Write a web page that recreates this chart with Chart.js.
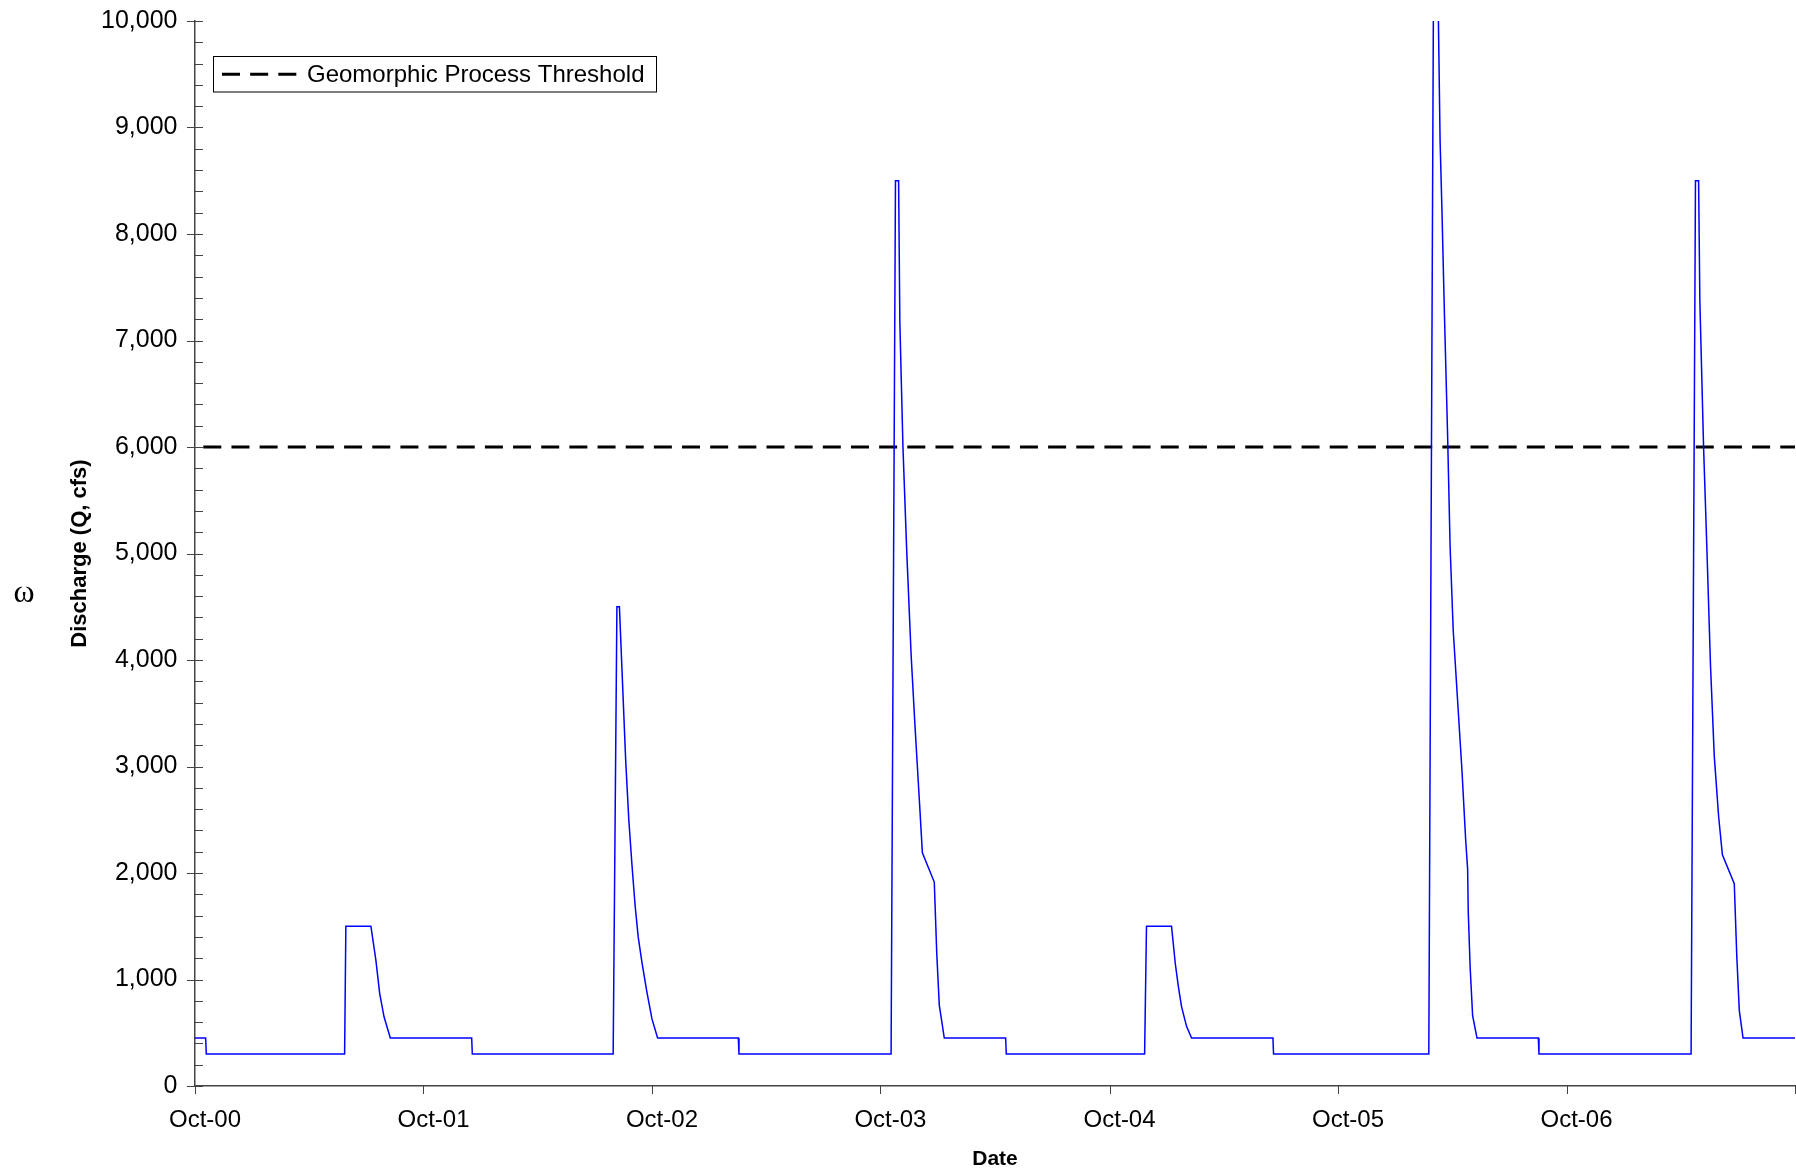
<!DOCTYPE html>
<html>
<head>
<meta charset="utf-8">
<script src="https://cdn.jsdelivr.net/npm/chart.js@4.4.1/dist/chart.umd.min.js"></script>
<style>
  html, body { margin: 0; padding: 0; background: #fff; }
  #wrap { width: 1796px; height: 1172px; position: relative; }
</style>
</head>
<body>
<div id="wrap"><canvas id="c" width="1796" height="1172"></canvas></div>
<script>
// ---- data (day offsets counted from 1 Oct 2000) ----
const days = [0,17,18,239,241,281,289,295,302,312,442,443,668,674,678,683,688,693,698,703,708,714,722,730,739,868,869,1112,1119,1124,1126,1131,1137,1144,1150,1157,1162,1181,1185,1189,1197,1295,1296,1517,1520,1560,1566,1571,1576,1584,1592,1722,1723,1971,1979,1984,1989,1992,1996,2001,2005,2010,2017,2024,2030,2033,2034,2037,2041,2048,2146,2147,2390,2397,2402,2404,2410,2415,2421,2427,2434,2440,2459,2463,2467,2473,2556];
const discharge = [450,450,300,300,1500,1500,1180,870,650,450,450,300,300,4500,4500,3780,3060,2500,2080,1700,1400,1160,880,630,450,450,300,300,8500,8500,7170,5990,5020,4050,3400,2700,2190,1915,1240,760,450,450,300,300,1500,1500,1150,930,745,560,450,450,300,300,11000,11000,8880,8220,7240,6120,5070,4280,3620,2960,2300,2040,1640,1120,660,450,450,300,300,8500,8500,7370,5990,5090,3950,3100,2530,2170,1900,1220,710,450,450];
const thresholdValue = 6000;
const thresholdLabel = 'Geomorphic Process Threshold';
const yearTickDays = [0,365,730,1095,1461,1826,2191,2556];
const yearTickLabels = ['Oct-00','Oct-01','Oct-02','Oct-03','Oct-04','Oct-05','Oct-06',''];
const yMin = 0, yMax = 10000, yMajorStep = 1000, yMinorStep = 200;
const xTitle = 'Date';
const yTitle = 'Discharge (Q, cfs)';
const sideMark = 'ω';

const FONT = '"Liberation Sans", Arial, sans-serif';

const flowPoints = days.map((d, i) => ({ x: d, y: discharge[i] }));
const thresholdPoints = [
  { x: yearTickDays[0], y: thresholdValue },
  { x: yearTickDays[yearTickDays.length - 1], y: thresholdValue }
];

const tickMarks = {
  id: 'tickMarks',
  afterDatasetsDraw(chart) {
    const { ctx, scales: { x, y } } = chart;
    const ax = x.left;
    const by = y.bottom;
    ctx.save();
    ctx.lineWidth = 1;
    ctx.strokeStyle = '#444';
    ctx.beginPath();
    for (let v = yMin; v <= yMax; v += yMinorStep) {
      const py = Math.round(y.getPixelForValue(v)) + 0.5;
      if (v % yMajorStep === 0) { ctx.moveTo(ax - 8, py); ctx.lineTo(ax + 8, py); }
      else { ctx.moveTo(ax, py); ctx.lineTo(ax + 8, py); }
    }
    yearTickDays.forEach(d => {
      const px = Math.round(x.getPixelForValue(d)) + 0.5;
      ctx.moveTo(px, by); ctx.lineTo(px, by + 8);
    });
    ctx.stroke();
    ctx.restore();
  }
};

const boxedLegend = {
  id: 'boxedLegend',
  afterDraw(chart) {
    const { ctx } = chart;
    const ds = chart.data.datasets[1];
    const left = 213.5, top = 56.5, w = 443, h = 35.5;
    ctx.save();
    ctx.fillStyle = '#fff';
    ctx.fillRect(left, top, w, h);
    ctx.strokeStyle = '#000';
    ctx.lineWidth = 1;
    ctx.strokeRect(left, top, w, h);
    const cy = top + h / 2;
    ctx.beginPath();
    ctx.setLineDash(ds.borderDash);
    ctx.lineDashOffset = 0;
    ctx.lineWidth = ds.borderWidth;
    ctx.strokeStyle = ds.borderColor;
    ctx.moveTo(222, cy); ctx.lineTo(296.5, cy);
    ctx.stroke();
    ctx.setLineDash([]);
    ctx.fillStyle = '#000';
    ctx.font = '24px ' + FONT;
    ctx.textAlign = 'left';
    ctx.textBaseline = 'middle';
    ctx.fillText(ds.label, 307, cy + 1);
    // stray glyph at far left
    ctx.font = '32px "Liberation Serif", serif';
    ctx.textAlign = 'center';
    ctx.fillText(sideMark, 24, 594);
    ctx.restore();
  }
};

new Chart(document.getElementById('c'), {
  type: 'line',
  data: {
    datasets: [
      {
        label: 'Discharge',
        data: flowPoints,
        borderColor: '#0000ff',
        borderWidth: 1.5,
        pointRadius: 0,
        tension: 0,
        fill: false
      },
      {
        label: thresholdLabel,
        data: thresholdPoints,
        borderColor: '#000',
        borderWidth: 3,
        borderDash: [18, 10.16],
        borderDashOffset: 19.86,
        pointRadius: 0,
        fill: false
      }
    ]
  },
  options: {
    responsive: false,
    animation: false,
    devicePixelRatio: 1,
    events: [],
    layout: { padding: { top: 21, right: 1, bottom: 0, left: 0 } },
    plugins: { legend: { display: false }, tooltip: { enabled: false } },
    scales: {
      x: {
        type: 'linear',
        min: yearTickDays[0],
        max: yearTickDays[yearTickDays.length - 1],
        afterBuildTicks: s => { s.ticks = yearTickDays.map(v => ({ value: v })); },
        afterFit: s => { s.height = 86; s.paddingLeft = 0; s.paddingRight = 0; },
        grid: { display: false, drawTicks: false },
        border: { display: true, color: '#444', width: 1.5 },
        ticks: {
          autoSkip: false, maxRotation: 0, minRotation: 0,
          padding: 20, labelOffset: 10, color: '#000',
          font: { family: FONT, size: 24 },
          callback: (v, i) => yearTickLabels[i]
        },
        title: {
          display: true, text: xTitle, color: '#000',
          font: { family: FONT, size: 21, weight: 'bold' },
          padding: { top: 0, bottom: 0 }
        }
      },
      y: {
        type: 'linear',
        min: yMin, max: yMax,
        afterFit: s => { s.width = 195; s.paddingTop = 0; s.paddingBottom = 0; },
        grid: { display: false, drawTicks: false },
        border: { display: true, color: '#444', width: 1.5 },
        ticks: {
          stepSize: yMajorStep, autoSkip: false, padding: 17.5, color: '#000',
          font: { family: FONT, size: 25 },
          callback: v => Number(v).toLocaleString('en-US')
        },
        title: {
          display: true, text: yTitle, color: '#000',
          font: { family: FONT, size: 22, weight: 'bold' },
          padding: { top: 67, bottom: 0 }
        }
      }
    }
  },
  plugins: [tickMarks, boxedLegend]
});
</script>
</body>
</html>
